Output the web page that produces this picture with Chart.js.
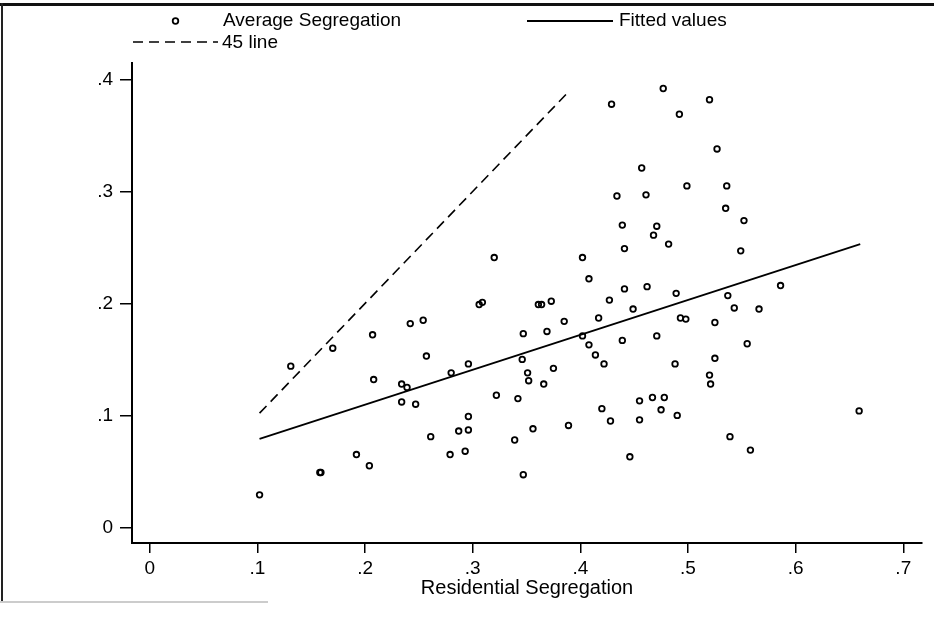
<!DOCTYPE html>
<html>
<head>
<meta charset="utf-8">
<script src="https://cdn.jsdelivr.net/npm/chart.js@4"></script>
<style>
  body { margin: 0; background: #fff; }
  #page { position: relative; width: 934px; height: 632px; }
  #frameTop { position: absolute; left: 0; top: 3px; width: 934px; height: 3px; background: #111; }
  #frameLeft { position: absolute; left: 1px; top: 3px; width: 2px; height: 598px; background: #222; }
  #frameBottom { position: absolute; left: 0; top: 601px; width: 268px; height: 2px; background: #ccc; }
  #chartHolder { position: absolute; left: 0; top: 0; width: 934px; height: 632px; }
</style>
</head>
<body>
<div id="page">
  <div id="frameTop"></div>
  <div id="frameLeft"></div>
  <div id="frameBottom"></div>
  <div id="chartHolder"><canvas id="chart"></canvas></div>
</div>
<script>
// residential segregation (x) vs average segregation (y)
const segX = [
  0.477, 0.429, 0.457, 0.434, 0.461, 0.439, 0.471, 0.468, 0.482, 0.441,
  0.320, 0.402, 0.408, 0.441, 0.462, 0.520, 0.492, 0.527, 0.499, 0.536,
  0.535, 0.552, 0.549, 0.586, 0.489, 0.537, 0.102, 0.131, 0.170, 0.207,
  0.242, 0.254, 0.257, 0.208, 0.234, 0.239, 0.280, 0.234, 0.247, 0.261,
  0.279, 0.192, 0.204, 0.158, 0.159, 0.306, 0.309, 0.361, 0.364, 0.373,
  0.427, 0.449, 0.385, 0.417, 0.347, 0.369, 0.402, 0.439, 0.471, 0.408,
  0.414, 0.422, 0.296, 0.346, 0.375, 0.351, 0.352, 0.366, 0.322, 0.342,
  0.296, 0.287, 0.296, 0.293, 0.339, 0.356, 0.389, 0.347, 0.420, 0.428,
  0.455, 0.467, 0.478, 0.475, 0.455, 0.446, 0.543, 0.566, 0.493, 0.498,
  0.525, 0.555, 0.488, 0.525, 0.520, 0.521, 0.490, 0.659, 0.539, 0.558
];
const segY = [
  0.392, 0.378, 0.321, 0.296, 0.297, 0.270, 0.269, 0.261, 0.253, 0.249,
  0.241, 0.241, 0.222, 0.213, 0.215, 0.382, 0.369, 0.338, 0.305, 0.305,
  0.285, 0.274, 0.247, 0.216, 0.209, 0.207, 0.029, 0.144, 0.160, 0.172,
  0.182, 0.185, 0.153, 0.132, 0.128, 0.125, 0.138, 0.112, 0.110, 0.081,
  0.065, 0.065, 0.055, 0.049, 0.049, 0.199, 0.201, 0.199, 0.199, 0.202,
  0.203, 0.195, 0.184, 0.187, 0.173, 0.175, 0.171, 0.167, 0.171, 0.163,
  0.154, 0.146, 0.146, 0.150, 0.142, 0.138, 0.131, 0.128, 0.118, 0.115,
  0.099, 0.086, 0.087, 0.068, 0.078, 0.088, 0.091, 0.047, 0.106, 0.095,
  0.113, 0.116, 0.116, 0.105, 0.096, 0.063, 0.196, 0.195, 0.187, 0.186,
  0.183, 0.164, 0.146, 0.151, 0.136, 0.128, 0.100, 0.104, 0.081, 0.069
];

// fitted values line (end points)
const fitX = [0.102, 0.660];
const fitY = [0.079, 0.253];

// 45 degree line (end points)
const lineX = [0.102, 0.390];
const lineY = [0.102, 0.390];

const xTicks = [0, 0.1, 0.2, 0.3, 0.4, 0.5, 0.6, 0.7];
const yTicks = [0, 0.1, 0.2, 0.3, 0.4];

const labels = ["Average Segregation", "Fitted values", "45 line"];
const axisTitle = "Residential Segregation";

const fontFamily = "'Liberation Sans', Arial, sans-serif";
Chart.defaults.font.family = fontFamily;
Chart.defaults.color = "#000";

function toPoints(xs, ys)
{
    return xs.map((x, i) => ({x: x, y: ys[i]}));
}

function tickText(value)
{
    if (Math.abs(value) < 1e-9) return "0";
    return (+value.toFixed(1)).toString().replace(/^0/, "");
}

// legend laid out like the stata one: two columns, second row under the first
const stataLegend = {
    id: "stataLegend",
    afterDraw(chart)
    {
        const ctx = chart.ctx;
        const items = [
            {ds: 0, x1: 133, x2: 218, y: 21, tx: 223, ty: 26},
            {ds: 1, x1: 527, x2: 613, y: 21, tx: 619, ty: 26},
            {ds: 2, x1: 133, x2: 218, y: 42, tx: 222, ty: 48}
        ];
        ctx.save();
        ctx.font = "19px " + fontFamily;
        ctx.fillStyle = "#000";
        ctx.textBaseline = "alphabetic";
        items.forEach(item =>
        {
            const ds = chart.data.datasets[item.ds];
            ctx.strokeStyle = ds.borderColor;
            ctx.lineWidth = ds.borderWidth;
            if (ds.showLine)
            {
                ctx.setLineDash(ds.borderDash || []);
                ctx.beginPath();
                ctx.moveTo(item.x1, item.y);
                ctx.lineTo(item.x2, item.y);
                ctx.stroke();
                ctx.setLineDash([]);
            }
            else
            {
                ctx.lineWidth = ds.pointBorderWidth;
                ctx.beginPath();
                ctx.arc((item.x1 + item.x2) / 2, item.y, ds.pointRadius, 0, Math.PI * 2);
                ctx.stroke();
            }
            ctx.fillText(ds.label, item.tx, item.ty);
        });
        ctx.restore();
    }
};

new Chart(document.getElementById("chart"), {
    type: "scatter",
    data: {
        datasets: [
            {
                label: labels[0],
                data: toPoints(segX, segY),
                pointRadius: 2.8,
                pointBorderWidth: 1.8,
                pointBackgroundColor: "rgba(255,255,255,0)",
                pointBorderColor: "#000",
                borderColor: "#000",
                borderWidth: 1.8,
                showLine: false
            },
            {
                label: labels[1],
                data: toPoints(fitX, fitY),
                showLine: true,
                pointRadius: 0,
                borderColor: "#000",
                borderWidth: 1.8
            },
            {
                label: labels[2],
                data: toPoints(lineX, lineY),
                showLine: true,
                pointRadius: 0,
                borderColor: "#000",
                borderWidth: 1.6,
                borderDash: [10, 6]
            }
        ]
    },
    options: {
        responsive: true,
        maintainAspectRatio: false,
        animation: false,
        layout: {
            padding: {top: 63, right: 12, left: 0, bottom: 0}
        },
        plugins: {
            legend: {display: false},
            tooltip: {enabled: false}
        },
        scales: {
            x: {
                type: "linear",
                min: -0.0165,
                max: 0.7174,
                afterBuildTicks: scale => { scale.ticks = xTicks.map(v => ({value: v})); },
                afterFit: scale => { scale.height = 89; },
                border: {display: true, color: "#000", width: 2},
                grid: {drawOnChartArea: false, drawTicks: true, tickLength: 10, color: "#000", lineWidth: 1.5},
                ticks: {
                    callback: value => tickText(value),
                    font: {size: 19},
                    padding: 4,
                    maxRotation: 0
                },
                title: {
                    display: true,
                    text: axisTitle,
                    font: {size: 20},
                    padding: {top: 0, bottom: 32}
                }
            },
            y: {
                type: "linear",
                min: -0.014,
                max: 0.4148,
                afterBuildTicks: scale => { scale.ticks = yTicks.map(v => ({value: v})); },
                afterFit: scale => { scale.width = 132; },
                border: {display: true, color: "#000", width: 2},
                grid: {drawOnChartArea: false, drawTicks: true, tickLength: 12, color: "#000", lineWidth: 1.5},
                ticks: {
                    callback: value => tickText(value),
                    font: {size: 19},
                    padding: 7
                }
            }
        }
    },
    plugins: [stataLegend]
});
</script>
</body>
</html>
